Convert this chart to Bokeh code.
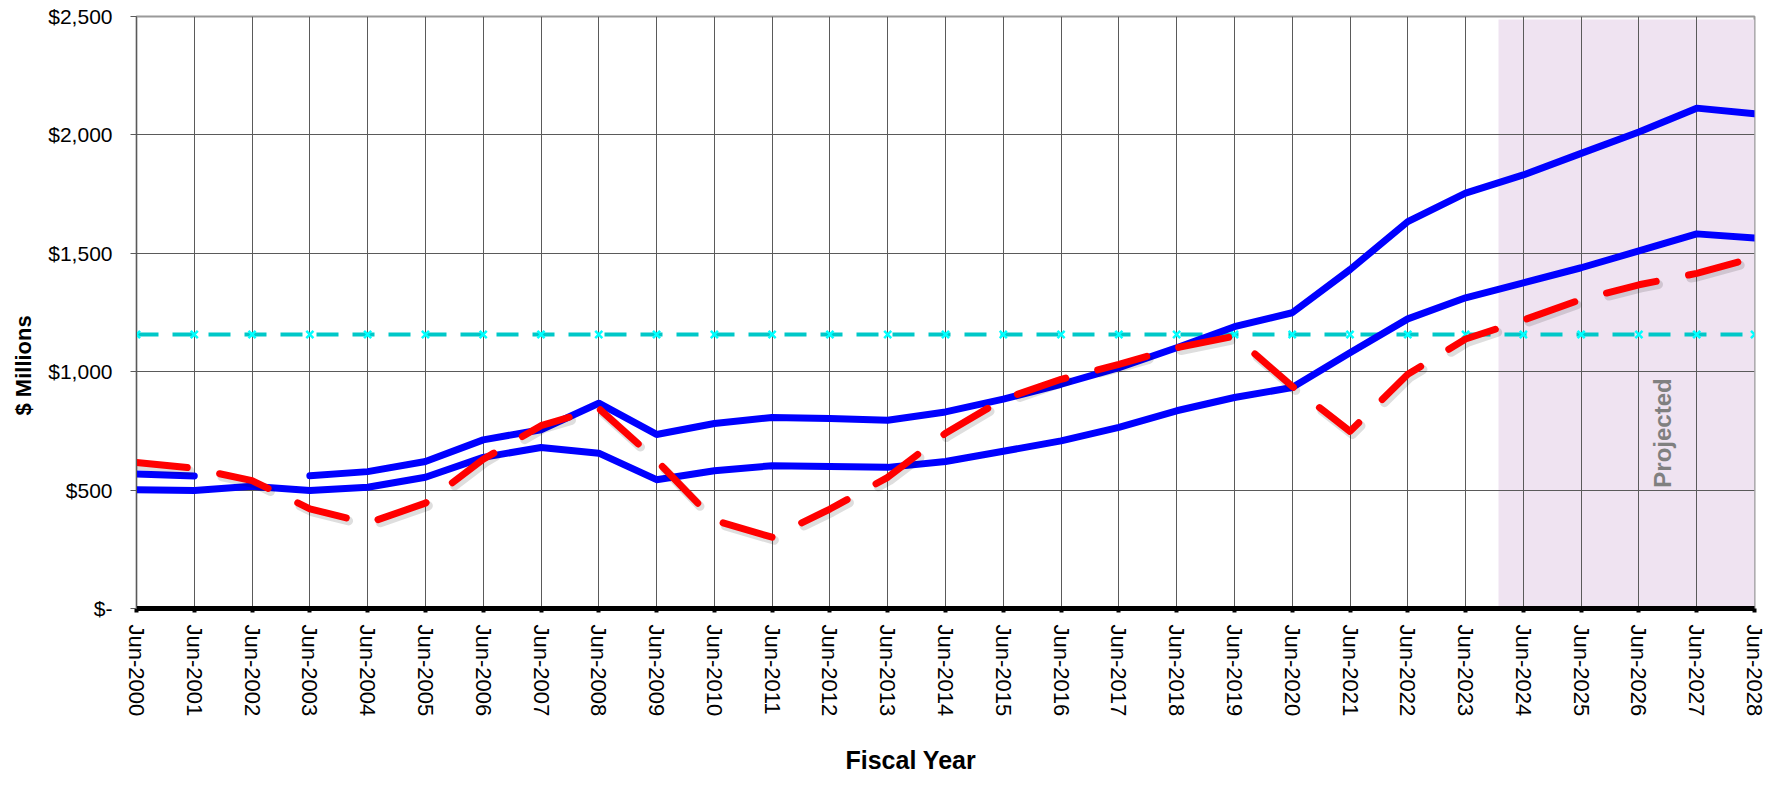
import math
import numpy as np
from bokeh.plotting import figure
from bokeh.models import Range1d, FixedTicker, BoxAnnotation, Label, Title
from bokeh.embed import file_html
from bokeh.resources import INLINE

# ---------------- data ----------------
years = list(range(2000, 2029))
x_tick_labels = [f"Jun-{y}" for y in years]
y_ticks = [0, 500, 1000, 1500, 2000, 2500]
y_tick_labels = ["$-", "$500", "$1,000", "$1,500", "$2,000", "$2,500"]

upper_blue = [568, 560, None, 561, 578, 621, 712, 755, 867, 735, 781, 807, 802, 795,
              830, 884, 947, 1017, 1101, 1190, 1249, 1431, 1634, 1754, 1831, 1922,
              2012, 2113, 2089]
lower_blue = [502, 498, 516, 498, 512, 554, 638, 680, 656, 544, 582, 603, 600, 596,
              621, 664, 708, 765, 835, 891, 933, 1080, 1223, 1312, 1375, 1439,
              1510, 1582, 1565]
red_dashed = [617, 592, 540, 421, 360, 445, 630, 772, 845, 625, 372, 301, 420, 554,
              740, 884, 968, 1031, 1101, 1150, 938, 748, 989, 1138, 1218, 1305,
              1367, 1415, 1482]
cyan_level = [1157] * len(years)

projection_start = 2023.57
projection_end = 2028
projection_top = 2487

FONT = "Liberation Sans"

def arr(v):
    return np.array([np.nan if a is None else a for a in v], dtype=float)

p = figure(width=1777, height=799,
           x_range=Range1d(2000, 2028), y_range=Range1d(0, 2500),
           output_backend="svg", toolbar_location=None,
           min_border_left=136, min_border_right=23, min_border_top=16,
           min_border_bottom=189)
p.background_fill_color = "white"
p.border_fill_color = "white"
p.outline_line_color = "#9a9a9a"
p.outline_line_width = 2

# grids
p.xgrid.ticker = FixedTicker(ticks=years)
p.ygrid.ticker = FixedTicker(ticks=y_ticks)
for g in (p.xgrid, p.ygrid):
    g.grid_line_color = "#5a5a5a"
    g.grid_line_width = 1

# projected shading (below the grid)
p.add_layout(BoxAnnotation(left=projection_start, right=projection_end,
                           bottom=0, top=projection_top,
                           fill_color="#EFE3F1", fill_alpha=1.0,
                           line_color=None, level="image"))

# x axis
xa = p.xaxis[0]
xa.ticker = FixedTicker(ticks=years)
xa.major_label_overrides = {y: l for y, l in zip(years, x_tick_labels)}
xa.major_label_orientation = -math.pi / 2
xa.major_label_text_font = FONT
xa.major_label_text_font_size = "22px"
xa.major_label_text_color = "black"
xa.major_label_standoff = 12
xa.axis_line_width = 5
xa.axis_line_color = "black"
xa.major_tick_out = 4
xa.major_tick_in = 0
xa.major_tick_line_width = 4
xa.major_tick_line_color = "black"
xa.minor_tick_line_color = None

# y axis
ya = p.yaxis[0]
ya.ticker = FixedTicker(ticks=y_ticks)
ya.major_label_overrides = {t: l for t, l in zip(y_ticks, y_tick_labels)}
ya.major_label_text_font = FONT
ya.major_label_text_font_size = "21px"
ya.major_label_text_color = "black"
ya.major_label_standoff = 18
ya.axis_line_color = "#5a5a5a"
ya.axis_line_width = 1
ya.major_tick_out = 6
ya.major_tick_in = 0
ya.major_tick_line_color = "#5a5a5a"
ya.minor_tick_line_color = None

# axis titles, off-centre like the reference
y_title = Title(text="$ Millions", align="left", offset=193,
                vertical_align="middle",
                text_font=FONT, text_font_size="22px",
                text_font_style="bold", text_color="black")
x_title = Title(text="Fiscal Year", align="left", offset=709,
                vertical_align="middle",
                text_font=FONT, text_font_size="25px",
                text_font_style="bold", text_color="black")
if "standoff" in Title.properties():
    y_title.standoff = 18
    x_title.standoff = 50
p.add_layout(y_title, "left")
p.add_layout(x_title, "below")

x = np.array(years, dtype=float)

# cyan reference line
p.line(x, arr(cyan_level), line_color="#00C8C8", line_width=4, line_dash="22 14")
p.scatter(x, arr(cyan_level), marker="x", size=10, line_color="#00FFFF", line_width=2.5)

# blue lines
p.line(x, arr(upper_blue), line_color="#0000FF", line_width=7,
       line_cap="round", line_join="round")
p.line(x, arr(lower_blue), line_color="#0000FF", line_width=7,
       line_cap="round", line_join="round")

# red dashed line with soft shadow
red = arr(red_dashed)
p.line(x + 0.04, red - 13, line_color="#000000", line_alpha=0.13, line_width=9,
       line_dash="51 33", line_cap="round", line_join="round")
p.line(x, red, line_color="#FF0000", line_width=7,
       line_dash="51 33", line_cap="round", line_join="round")

# projected label
p.add_layout(Label(x=2026.4, y=741, text="Projected", angle=math.pi / 2,
                   text_align="center", text_baseline="middle",
                   text_font=FONT, text_font_size="24px",
                   text_font_style="bold", text_color="#808080"))

open("out.html", "w").write(file_html(p, INLINE))
